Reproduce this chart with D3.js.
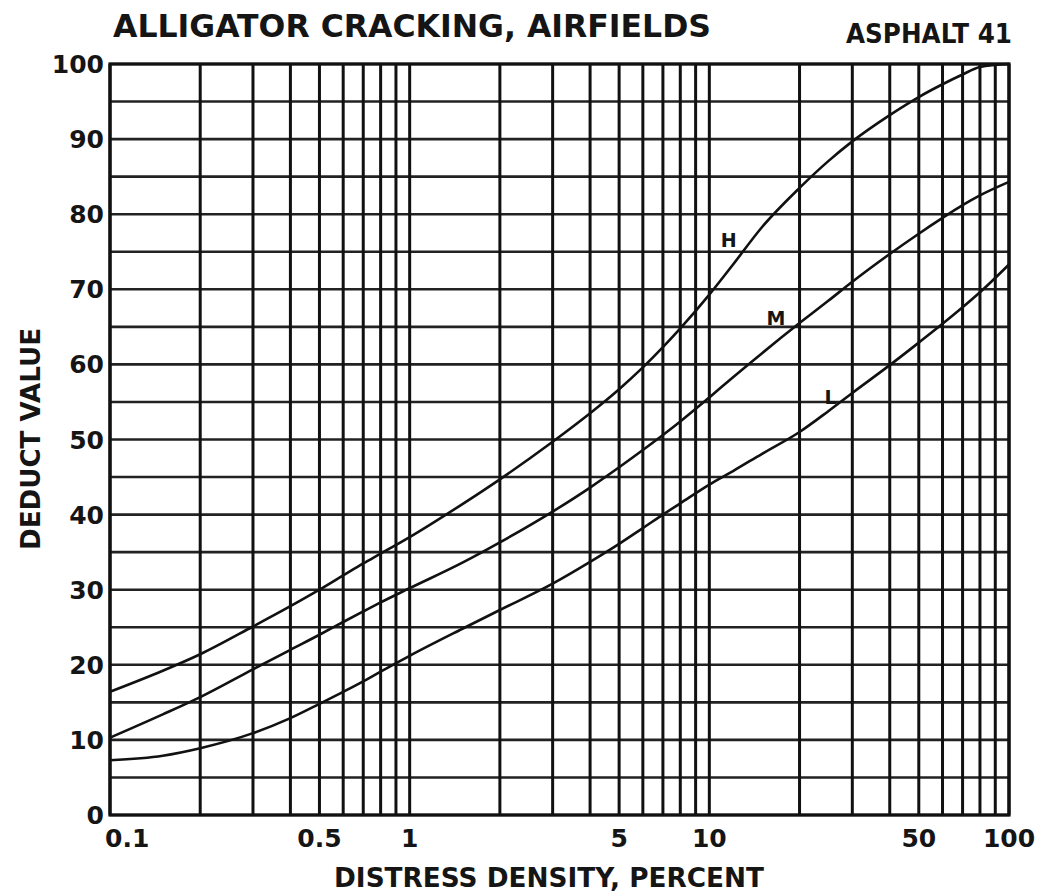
<!DOCTYPE html>
<html>
<head>
<meta charset="utf-8">
<script src="https://cdn.jsdelivr.net/npm/d3@7"></script>
<style>
  body { margin: 0; background: #fff; }
  text { font-family: "DejaVu Sans", sans-serif; font-weight: bold; fill: #151515; }
</style>
</head>
<body>
<div id="chart"></div>
<script>
// distress density (percent) sampled along the curves
const densities = [0.1, 0.15, 0.2, 0.3, 0.4, 0.5, 0.6, 0.7, 0.8, 1, 1.5, 2, 3, 4, 5, 6, 7, 8, 10, 12, 15, 20, 25, 30, 40, 50, 60, 70, 80, 100]
const highDeduct = [16.4, 19.2, 21.4, 25.1, 27.8, 30, 31.9, 33.5, 34.8, 37, 41.4, 44.7, 49.7, 53.5, 56.7, 59.6, 62.3, 64.8, 69.3, 73.3, 78.3, 83.5, 87.1, 89.7, 93.2, 95.6, 97.3, 98.6, 99.6, 100]
const mediumDeduct = [10.3, 13.4, 15.7, 19.4, 22, 24, 25.7, 27.1, 28.3, 30.2, 33.6, 36.3, 40.4, 43.6, 46.3, 48.6, 50.6, 52.4, 55.6, 58.3, 61.5, 65.5, 68.5, 71, 74.7, 77.4, 79.5, 81.2, 82.5, 84.3]
const lowDeduct = [7.3, 7.9, 8.9, 10.9, 12.9, 14.8, 16.4, 17.8, 19.1, 21.2, 24.8, 27.3, 30.8, 33.7, 36.1, 38.2, 40, 41.5, 44, 45.8, 48.1, 51, 53.8, 56.2, 59.9, 62.9, 65.4, 67.6, 69.6, 73.3]

const xTickValues = [0.1, 0.5, 1, 5, 10, 50, 100]
const xTickLabels = ['0.1', '0.5', '1', '5', '10', '50', '100']
const yTickValues = [0, 10, 20, 30, 40, 50, 60, 70, 80, 90, 100]

const w = 1043
const h = 896
const plot = { left: 110, right: 1009, top: 64, bottom: 815 }

const svg = d3.select('#chart')
  .append('svg')
  .attr('width', w)
  .attr('height', h)

const xScale = d3.scaleLog()
  .domain([0.1, 100])
  .range([plot.left, plot.right])

const yScale = d3.scaleLinear()
  .domain([0, 100])
  .range([plot.bottom, plot.top])

// grid
const grid = svg.append('g')

grid.selectAll('line.h')
  .data(yScale.ticks(20))
  .enter()
  .append('line')
    .attr('class', 'h')
    .attr('x1', plot.left)
    .attr('x2', plot.right)
    .attr('y1', d => yScale(d))
    .attr('y2', d => yScale(d))
    .attr('stroke', '#222')
    .attr('stroke-width', 2.6)

grid.selectAll('line.v')
  .data(xScale.ticks())
  .enter()
  .append('line')
    .attr('class', 'v')
    .attr('x1', d => xScale(d))
    .attr('x2', d => xScale(d))
    .attr('y1', plot.top)
    .attr('y2', plot.bottom)
    .attr('stroke', '#111')
    .attr('stroke-width', 3)

svg.append('rect')
  .attr('x', plot.left)
  .attr('y', plot.top)
  .attr('width', plot.right - plot.left)
  .attr('height', plot.bottom - plot.top)
  .attr('fill', 'none')
  .attr('stroke', '#111')
  .attr('stroke-width', 3.2)

// curves
const line = d3.line()
  .x(d => xScale(d[0]))
  .y(d => yScale(d[1]))
  .curve(d3.curveMonotoneX)

const series = [highDeduct, mediumDeduct, lowDeduct]
svg.selectAll('path.curve')
  .data(series)
  .enter()
  .append('path')
    .attr('class', 'curve')
    .attr('d', vals => line(vals.map((v, i) => [densities[i], v])))
    .attr('fill', 'none')
    .attr('stroke', '#111')
    .attr('stroke-width', 2.6)

// curve labels
const curveLabels = [
  { text: 'H', x: 11.6, y: 76.4 },
  { text: 'M', x: 16.7, y: 66 },
  { text: 'L', x: 25.4, y: 55.4 }
]
svg.selectAll('text.curve-label')
  .data(curveLabels)
  .enter()
  .append('text')
    .attr('class', 'curve-label')
    .attr('x', d => xScale(d.x))
    .attr('y', d => yScale(d.y))
    .attr('text-anchor', 'middle')
    .attr('dominant-baseline', 'middle')
    .style('font-size', '19px')
    .text(d => d.text)

// axes labels
svg.selectAll('text.ytick')
  .data(yTickValues)
  .enter()
  .append('text')
    .attr('class', 'ytick')
    .attr('x', plot.left - 6)
    .attr('y', d => yScale(d) + 9)
    .attr('text-anchor', 'end')
    .style('font-size', '25px')
    .text(d => d)

svg.selectAll('text.xtick')
  .data(xTickValues)
  .enter()
  .append('text')
    .attr('class', 'xtick')
    .attr('x', (d, i) => i === 0 ? xScale(d) - 5 : xScale(d))
    .attr('y', plot.bottom + 32)
    .attr('text-anchor', (d, i) => i === 0 ? 'start' : 'middle')
    .style('font-size', '25px')
    .text((d, i) => xTickLabels[i])

svg.append('text')
  .attr('x', 113)
  .attr('y', 37)
  .attr('textLength', 598)
  .attr('lengthAdjust', 'spacingAndGlyphs')
  .style('font-size', '32px')
  .text('ALLIGATOR CRACKING, AIRFIELDS')

svg.append('text')
  .attr('x', 846)
  .attr('y', 43)
  .attr('textLength', 166)
  .attr('lengthAdjust', 'spacingAndGlyphs')
  .style('font-size', '27px')
  .text('ASPHALT 41')

svg.append('text')
  .attr('x', 334)
  .attr('y', 887)
  .attr('textLength', 430)
  .attr('lengthAdjust', 'spacingAndGlyphs')
  .style('font-size', '27px')
  .text('DISTRESS DENSITY, PERCENT')

svg.append('text')
  .attr('transform', 'translate(40, 550) rotate(-90)')
  .attr('textLength', 222)
  .attr('lengthAdjust', 'spacingAndGlyphs')
  .style('font-size', '27px')
  .text('DEDUCT VALUE')
</script>
</body>
</html>
